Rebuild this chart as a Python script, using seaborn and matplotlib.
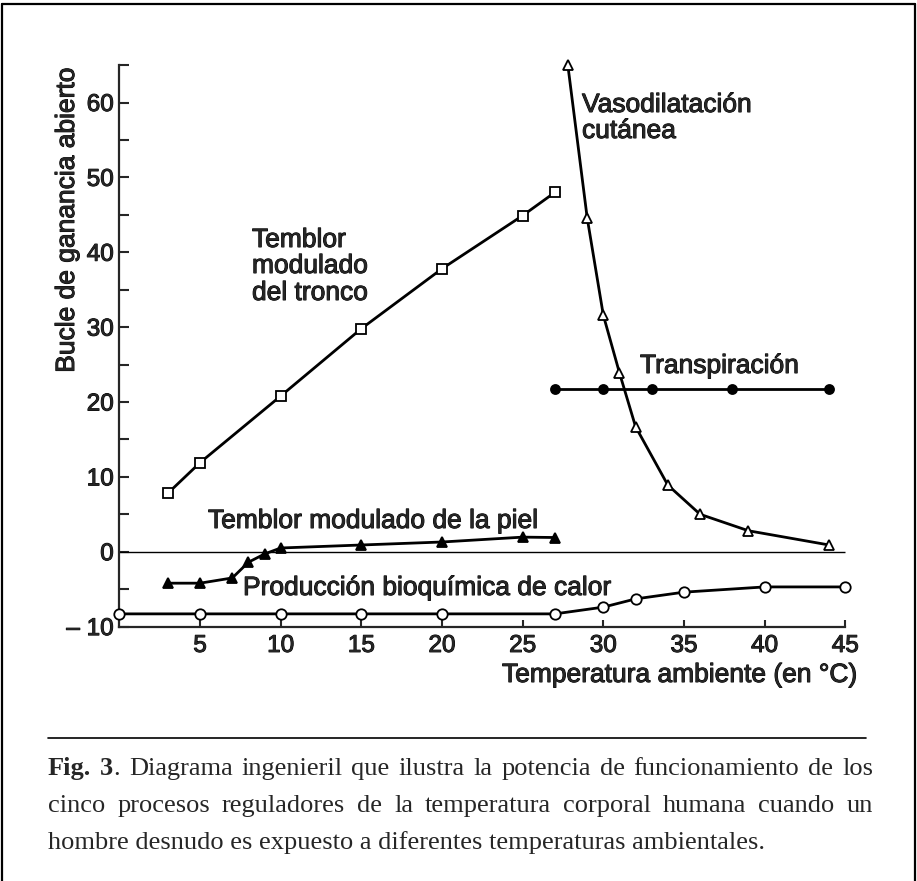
import numpy as np
import pandas as pd
import seaborn as sns
import matplotlib.pyplot as plt
import matplotlib.patheffects as pe
from matplotlib.lines import Line2D
from matplotlib.ticker import MultipleLocator


# temblor modulado del tronco (cuadrados)
tronco_x = [3, 5, 10, 15, 20, 25, 27]
tronco_y = [7.8, 11.9, 20.8, 29.8, 37.8, 44.9, 48.0]

# temblor modulado de la piel (triangulos llenos)
piel_x = [3, 5, 7, 8, 9, 10, 15, 20, 25, 27]
piel_y = [-4.2, -4.2, -3.5, -1.4, -0.3, 0.5, 0.9, 1.3, 1.95, 1.9]

# vasodilatacion cutanea (triangulos abiertos)
vaso_x = [27.8, 29, 30, 31, 32, 34, 36, 39, 44]
vaso_y = [65.0, 44.6, 31.6, 23.9, 16.7, 8.9, 5.0, 2.8, 0.9]

# transpiracion (circulos llenos)
transp_x = [27, 30, 33, 38, 44]
transp_y = [21.8, 21.8, 21.8, 21.8, 21.8]

# produccion bioquimica de calor (circulos abiertos)
calor_x = [0, 5, 10, 15, 20, 27, 30, 32, 35, 40, 45]
calor_y = [-8.3, -8.3, -8.3, -8.3, -8.3, -8.3, -7.4, -6.3, -5.4, -4.7, -4.7]

x_ticks = [5, 10, 15, 20, 25, 30, 35, 40, 45]
y_ticks = [-10, 0, 10, 20, 30, 40, 50, 60]
y_ticklabels = ["\u2013 10", "0", "10", "20", "30", "40", "50", "60"]

caption = [
    [[("Fig.", "bold")], [("3", "bold"), (".", "normal")], "Diagrama", "ingenieril", "que",
     "ilustra", "la", "potencia", "de", "funcionamiento", "de", "los"],
    ["cinco", "procesos", "reguladores", "de", "la", "temperatura", "corporal",
     "humana", "cuando", "un"],
]
caption_last = "hombre desnudo es expuesto a diferentes temperaturas ambientales."

W, H = 917, 881
sns.set_style("ticks")
plt.rcParams["font.family"] = ["Liberation Sans", "DejaVu Sans"]

fig = plt.figure(figsize=(W / 100, H / 100), dpi=100)
heavy = [pe.withStroke(linewidth=0.7, foreground="black")]


def px(x, y):
    return x / W, 1 - y / H


ax = fig.add_axes([119.4 / W, (H - 626.6) / H, 742 / W, 569 / H])
ax.set_xlim(0, 46)
ax.set_ylim(-10, 66)

series = [
    (tronco_x, tronco_y, "s", "white", 7.5),
    (piel_x, piel_y, "^", "black", 6.5),
    (vaso_x, vaso_y, "^", "white", 7.5),
    (transp_x, transp_y, "o", "black", 6.5),
    (calor_x, calor_y, "o", "white", 7.5),
]
for xs, ys, mk, face, ms in series:
    df = pd.DataFrame({"x": xs, "y": ys})
    sns.lineplot(data=df, x="x", y="y", ax=ax, sort=False, errorbar=None,
                 color="black", linewidth=2.0, marker=mk, markersize=ms,
                 markerfacecolor=face, markeredgecolor="black",
                 markeredgewidth=1.3, clip_on=False, zorder=3)

ax.hlines(0, 0, 45, color="black", linewidth=1.0, zorder=2)

sns.despine(ax=ax)
ax.spines["left"].set_bounds(-10, 65)
ax.spines["bottom"].set_bounds(0, 45)
ax.spines["left"].set_linewidth(1.6)
ax.spines["bottom"].set_linewidth(1.6)

ax.set_xticks(x_ticks)
ax.set_yticks(y_ticks)
ax.set_yticklabels(y_ticklabels)
ax.yaxis.set_minor_locator(MultipleLocator(5))
ax.tick_params(axis="y", which="both", direction="in", length=7, width=1.5,
               labelsize=17.5, pad=4)
ax.tick_params(axis="x", which="both", direction="in", length=5, width=1.5,
               labelsize=17.5, pad=6)
for lab in ax.get_xticklabels() + ax.get_yticklabels():
    lab.set_path_effects(heavy)
ax.set_xlabel("")
ax.set_ylabel("")

# etiquetas de ejes
fig.text(*px(74, 220), "Bucle de ganancia abierto", fontsize=19, rotation=90,
         rotation_mode="anchor", ha="center", va="baseline", path_effects=heavy)
fig.text(*px(502, 682), "Temperatura ambiente (en °C)", fontsize=19,
         ha="left", va="baseline", path_effects=heavy)

# anotaciones de las curvas
notes = [
    ("Vasodilatación", 582, 112),
    ("cutánea", 582, 138),
    ("Temblor", 252, 247),
    ("modulado", 252, 273),
    ("del tronco", 252, 300),
    ("Transpiración", 640, 373),
    ("Temblor modulado de la piel", 208, 528),
    ("Producción bioquímica de calor", 243, 595),
]
for txt, x, y in notes:
    fig.text(*px(x, y), txt, fontsize=19, ha="left", va="baseline", path_effects=heavy)

# marco y separador
x0, x1 = 48, 873
lw_frame = 1.6
fig.add_artist(Line2D([1.5 / W, 1.5 / W], [0, 1 - 3.5 / H], transform=fig.transFigure,
                      color="black", linewidth=lw_frame))
fig.add_artist(Line2D([1.5 / W, 915 / W], [1 - 3.5 / H, 1 - 3.5 / H],
                      transform=fig.transFigure, color="black", linewidth=lw_frame))
fig.add_artist(Line2D([915 / W, 915 / W], [0, 1 - 3.5 / H], transform=fig.transFigure,
                      color="black", linewidth=lw_frame))
fig.add_artist(Line2D([x0 / W, 866 / W], [1 - 738 / H, 1 - 738 / H],
                      transform=fig.transFigure, color="black", linewidth=1.2))

# pie de figura justificado
cap_size = 19
cap_font = ["Liberation Serif", "DejaVu Serif"]
renderer = fig.canvas.get_renderer()


def run_width(txt, wt):
    t = fig.text(0, 0, txt, fontsize=cap_size, family=cap_font, weight=wt)
    w = t.get_window_extent(renderer).width
    t.remove()
    return w


baselines = [775, 812, 849]
for i, words in enumerate(caption):
    words = [w if isinstance(w, list) else [(w, "normal")] for w in words]
    widths = [sum(run_width(t, wt) for t, wt in w) for w in words]
    gap = (x1 - x0 - sum(widths)) / (len(words) - 1)
    x = x0
    for w, wd in zip(words, widths):
        xx = x
        for t, wt in w:
            fig.text(*px(xx, baselines[i]), t, fontsize=cap_size, family=cap_font,
                     weight=wt, ha="left", va="baseline")
            xx += run_width(t, wt)
        x += wd + gap

fig.text(*px(x0, baselines[2]), caption_last, fontsize=cap_size, family=cap_font,
         ha="left", va="baseline")

fig.savefig("out.png", dpi=100)
